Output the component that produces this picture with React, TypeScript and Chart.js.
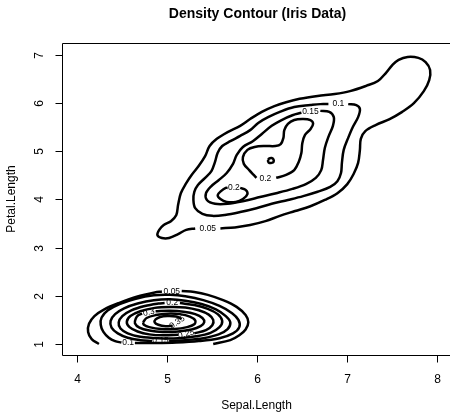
import React, { useEffect, useRef } from "react";
import { Chart, registerables } from "chart.js";

Chart.register(...registerables);

// ---- text ----
const chartTitle = "Density Contour (Iris Data)";
const xTitle = "Sepal.Length";
const yTitle = "Petal.Length";
const xTicks = [4, 5, 6, 7, 8];
const yTicks = [1, 2, 3, 4, 5, 6, 7];

// ---- contour lines (Sepal.Length, Petal.Length) ----
// upper cluster
const upper005 = [
  [5.59, 3.40], [5.75, 3.42], [5.92, 3.47], [6.09, 3.55], [6.25, 3.66], [6.42, 3.76], [6.59, 3.86],
  [6.75, 3.99], [6.89, 4.13], [7.00, 4.32], [7.07, 4.53], [7.12, 4.76], [7.14, 5.03], [7.15, 5.26],
  [7.20, 5.42], [7.32, 5.55], [7.47, 5.67], [7.61, 5.82], [7.74, 6.00], [7.85, 6.25], [7.91, 6.48],
  [7.92, 6.69], [7.87, 6.85], [7.79, 6.94], [7.67, 6.96], [7.57, 6.90], [7.50, 6.79], [7.43, 6.63],
  [7.34, 6.46], [7.21, 6.36], [7.03, 6.25], [6.86, 6.19], [6.67, 6.15], [6.47, 6.09], [6.32, 6.02],
  [6.19, 5.94], [6.05, 5.82], [5.92, 5.67], [5.81, 5.53], [5.67, 5.40], [5.55, 5.26], [5.47, 5.11],
  [5.42, 4.90], [5.35, 4.70], [5.27, 4.51], [5.21, 4.34], [5.15, 4.13], [5.12, 3.89], [5.10, 3.68],
  [5.04, 3.55], [4.96, 3.47], [4.91, 3.37], [4.89, 3.26], [4.94, 3.20], [5.02, 3.20], [5.12, 3.28],
  [5.21, 3.37], [5.31, 3.40],
];
const upper010 = [
  [7.01, 5.98], [7.10, 5.96], [7.14, 5.88], [7.12, 5.71], [7.06, 5.50], [7.01, 5.28], [6.96, 5.03],
  [6.94, 4.76], [6.93, 4.55], [6.89, 4.38], [6.81, 4.26], [6.67, 4.16], [6.51, 4.07], [6.34, 3.99],
  [6.16, 3.91], [5.99, 3.82], [5.81, 3.74], [5.64, 3.68], [5.50, 3.66], [5.39, 3.70], [5.31, 3.82],
  [5.29, 3.99], [5.30, 4.16], [5.34, 4.30], [5.42, 4.45], [5.49, 4.59], [5.53, 4.78], [5.56, 4.97],
  [5.61, 5.11], [5.70, 5.21], [5.81, 5.32], [5.92, 5.44], [6.01, 5.59], [6.12, 5.71], [6.25, 5.82],
  [6.41, 5.92], [6.59, 5.96], [6.70, 5.98], [6.79, 5.98],
];
const upper015 = [
  [6.70, 5.84], [6.80, 5.82], [6.85, 5.71], [6.84, 5.53], [6.79, 5.30], [6.75, 5.07], [6.73, 4.82],
  [6.71, 4.61], [6.65, 4.45], [6.54, 4.32], [6.39, 4.22], [6.21, 4.13], [6.03, 4.05], [5.85, 3.97],
  [5.67, 3.91], [5.53, 3.91], [5.44, 3.99], [5.43, 4.13], [5.49, 4.28], [5.57, 4.40], [5.66, 4.55],
  [5.73, 4.74], [5.77, 4.92], [5.84, 5.09], [5.95, 5.21], [6.05, 5.36], [6.16, 5.53], [6.27, 5.65],
  [6.39, 5.75], [6.49, 5.80],
];
const upper020a = [
  [6.21, 4.45], [6.32, 4.51], [6.41, 4.61], [6.46, 4.78], [6.49, 4.97], [6.50, 5.17], [6.53, 5.34],
  [6.59, 5.46], [6.62, 5.57], [6.59, 5.65], [6.50, 5.67], [6.41, 5.65], [6.34, 5.57], [6.30, 5.44],
  [6.29, 5.28], [6.26, 5.15], [6.20, 5.11], [6.09, 5.11], [5.97, 5.09], [5.89, 5.03], [5.84, 4.88],
  [5.85, 4.74], [5.91, 4.61], [5.96, 4.51], [5.99, 4.45],
];
const upper020b = [
  [5.81, 4.24], [5.87, 4.20], [5.89, 4.11], [5.84, 4.01], [5.76, 3.95], [5.66, 3.95], [5.59, 4.01],
  [5.56, 4.09], [5.60, 4.18], [5.65, 4.24], [5.67, 4.24],
];
const upper025 = [
  [6.12, 4.82], [6.13, 4.85], [6.16, 4.86], [6.18, 4.83], [6.18, 4.78], [6.16, 4.76], [6.13, 4.76],
  [6.12, 4.79], [6.12, 4.82],
];
// lower cluster
const lower005a = [
  [4.24, 1.0], [4.16, 1.1], [4.12, 1.25], [4.13, 1.42], [4.19, 1.58], [4.3, 1.72], [4.46, 1.85],
  [4.66, 1.98], [4.86, 2.07], [4.94, 2.09],
];
const lower005b = [
  [5.16, 2.1], [5.3, 2.08], [5.45, 2.02], [5.62, 1.91], [5.77, 1.77], [5.87, 1.6], [5.9, 1.45],
  [5.87, 1.3], [5.8, 1.18], [5.7, 1.08], [5.51, 1.0],
];
const lower010 = [
  [4.64, 1.02], [4.85, 1.02], [5.1, 1.03], [5.35, 1.06], [5.58, 1.12], [5.73, 1.22], [5.8, 1.35],
  [5.79, 1.5], [5.72, 1.64], [5.58, 1.79], [5.4, 1.91], [5.2, 1.99], [5.03, 2.02], [4.85, 2.01],
  [4.65, 1.94], [4.47, 1.83], [4.34, 1.7], [4.27, 1.55], [4.26, 1.4], [4.29, 1.25], [4.35, 1.13],
  [4.42, 1.06], [4.49, 1.03],
];
const lower015 = [
  [5.02, 1.06], [5.2, 1.08], [5.4, 1.12], [5.57, 1.2], [5.67, 1.31], [5.7, 1.45], [5.65, 1.58],
  [5.54, 1.72], [5.38, 1.83], [5.2, 1.9], [5.03, 1.93], [4.85, 1.91], [4.67, 1.84], [4.52, 1.74],
  [4.42, 1.62], [4.37, 1.48], [4.38, 1.34], [4.45, 1.22], [4.56, 1.13], [4.7, 1.08], [4.83, 1.06],
];
const lower020 = [
  [5.14, 1.85], [5.3, 1.81], [5.45, 1.73], [5.56, 1.62], [5.61, 1.48], [5.58, 1.35], [5.48, 1.23],
  [5.32, 1.16], [5.12, 1.12], [4.9, 1.12], [4.7, 1.15], [4.56, 1.22], [4.48, 1.32], [4.46, 1.45],
  [4.5, 1.58], [4.6, 1.7], [4.75, 1.79], [4.9, 1.84], [4.97, 1.85],
];
const lower025 = [
  [5.3, 1.22], [5.43, 1.29], [5.5, 1.39], [5.51, 1.5], [5.46, 1.61], [5.35, 1.7], [5.2, 1.76],
  [5.03, 1.77], [4.86, 1.75], [4.7, 1.68], [4.59, 1.58], [4.55, 1.46], [4.58, 1.35], [4.67, 1.26],
  [4.8, 1.2], [4.96, 1.18], [5.12, 1.19],
];
const lower030 = [
  [4.87, 1.68], [5.03, 1.69], [5.18, 1.67], [5.31, 1.62], [5.39, 1.54], [5.41, 1.45], [5.37, 1.37],
  [5.27, 1.3], [5.12, 1.26], [4.95, 1.25], [4.8, 1.28], [4.69, 1.34], [4.64, 1.43], [4.65, 1.53],
  [4.68, 1.6], [4.72, 1.63],
];
const lower035 = [
  [4.73, 1.45], [4.77, 1.54], [4.87, 1.6], [5.0, 1.63], [5.14, 1.62], [5.25, 1.57], [5.31, 1.49],
  [5.3, 1.41], [5.22, 1.35], [5.08, 1.31], [4.93, 1.31], [4.8, 1.35], [4.74, 1.4], [4.73, 1.45],
];
const lower040 = [
  [5.16, 1.52], [5.1, 1.57], [5.0, 1.58], [4.92, 1.56], [4.87, 1.51], [4.86, 1.45], [4.9, 1.4],
  [4.98, 1.37], [5.06, 1.38],
];

const contourSegments = [
  upper005, upper010, upper015, upper020a, upper020b, upper025,
  lower005a, lower005b, lower010, lower015, lower020, lower025, lower030, lower035, lower040,
];

// ---- contour labels ----
const labelTexts = ["0.05", "0.1", "0.15", "0.2", "0.2", "0.05", "0.1", "0.15", "0.2", "0.25", "0.3", "0.35"];
const labelXs = [5.45, 6.9, 6.59, 6.09, 5.74, 5.05, 4.565, 4.925, 5.055, 5.21, 4.795, 5.11];
const labelYs = [3.4, 5.98, 5.82, 4.44, 4.24, 2.095, 1.025, 1.06, 1.85, 1.205, 1.655, 1.45];
const labelAngles = [0, 0, 0, 0, 0, 0, 0, 0, 0, -15, -15, -35];

const FONT = '"Liberation Sans", Arial, Helvetica, sans-serif';

const rAxesPlugin = {
  id: "rAxes",
  afterDraw(chart: any) {
    const { ctx, chartArea: a, scales } = chart;
    const xs = scales.x;
    const ys = scales.y;
    ctx.save();
    ctx.fillStyle = "#000";
    // contour labels
    ctx.font = "8.5px " + FONT;
    ctx.textAlign = "center";
    ctx.textBaseline = "middle";
    labelTexts.forEach((t, i) => {
      const px = xs.getPixelForValue(labelXs[i]);
      const py = ys.getPixelForValue(labelYs[i]);
      ctx.save();
      ctx.translate(px, py);
      ctx.rotate((labelAngles[i] * Math.PI) / 180);
      ctx.fillText(t, 0, 0);
      ctx.restore();
    });
    // box
    ctx.strokeStyle = "#000";
    ctx.lineWidth = 1;
    const L = Math.round(a.left) - 0.5;
    const T = Math.round(a.top) + 0.5;
    const B = Math.round(a.bottom) + 0.5;
    const R = Math.round(a.right) + 0.5;
    ctx.beginPath();
    ctx.moveTo(R, T);
    ctx.lineTo(L, T);
    ctx.lineTo(L, B);
    ctx.lineTo(R, B);
    ctx.stroke();
    // x ticks
    ctx.font = "12px " + FONT;
    ctx.textAlign = "center";
    ctx.textBaseline = "middle";
    xTicks.forEach((v) => {
      const px = Math.round(xs.getPixelForValue(v)) + 0.5;
      ctx.beginPath();
      ctx.moveTo(px, B);
      ctx.lineTo(px, B + 7);
      ctx.stroke();
      ctx.fillText(String(v), px, 380);
    });
    // y ticks
    yTicks.forEach((v) => {
      const py = Math.round(ys.getPixelForValue(v)) + 0.5;
      ctx.beginPath();
      ctx.moveTo(L, py);
      ctx.lineTo(L - 7, py);
      ctx.stroke();
      ctx.save();
      ctx.translate(40, py);
      ctx.rotate(-Math.PI / 2);
      ctx.fillText(String(v), 0, 0);
      ctx.restore();
    });
    // axis titles
    ctx.fillText(xTitle, (a.left + a.right) / 2, 406);
    ctx.save();
    ctx.translate(12, (a.top + a.bottom) / 2);
    ctx.rotate(-Math.PI / 2);
    ctx.fillText(yTitle, 0, 0);
    ctx.restore();
    // main title
    ctx.font = "bold 14px " + FONT;
    ctx.fillText(chartTitle, (a.left + a.right) / 2 + 1, 14);
    ctx.restore();
  },
};

export default function App() {
  const ref = useRef<HTMLCanvasElement | null>(null);
  useEffect(() => {
    if (!ref.current) return;
    const datasets = contourSegments.map((seg) => ({
      data: seg.map((p) => ({ x: p[0], y: p[1] })),
      showLine: true,
      borderColor: "#000",
      borderWidth: 2.5,
      pointRadius: 0,
      tension: 0.35,
      fill: false,
      borderJoinStyle: "round" as const,
    }));
    const chart = new Chart(ref.current, {
      type: "scatter",
      data: { datasets },
      options: {
        animation: false,
        responsive: false,
        devicePixelRatio: 1,
        events: [],
        layout: { padding: { left: 63, top: 43, right: 0, bottom: 59 } },
        scales: {
          x: { type: "linear", min: 3.841, max: 8.141, display: false },
          y: { type: "linear", min: 0.7716, max: 7.249, display: false },
        },
        plugins: {
          legend: { display: false },
          title: { display: false },
          tooltip: { enabled: false },
        },
      },
      plugins: [rAxesPlugin],
    });
    return () => chart.destroy();
  }, []);
  return (
    <div style={{ position: "absolute", left: 0, top: 0, width: 450, height: 414, background: "#fff" }}>
      <canvas ref={ref} width={450} height={414} />
    </div>
  );
}
